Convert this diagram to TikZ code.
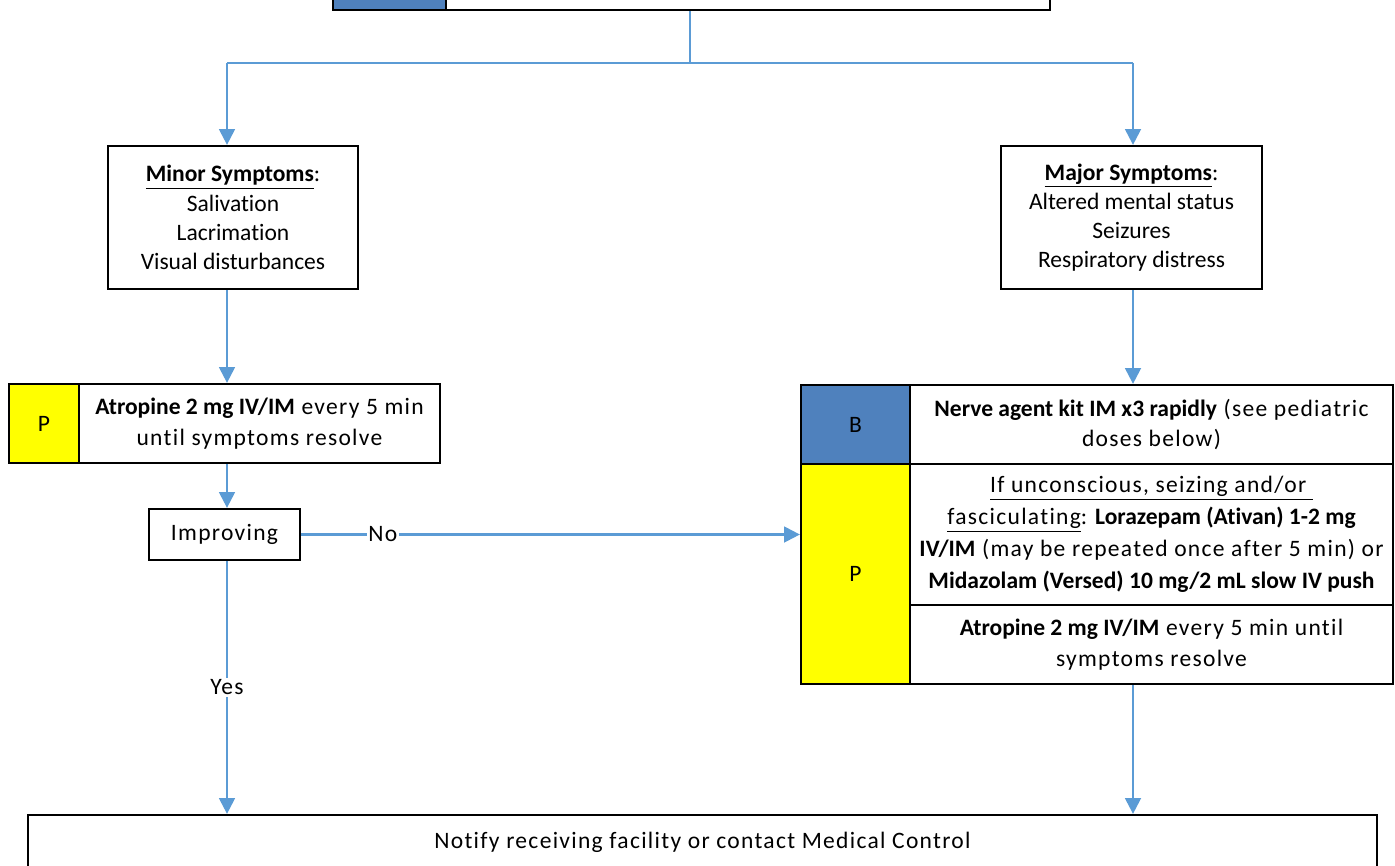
\documentclass[tikz,border=0pt]{standalone}
\usepackage{fontspec}
\setmainfont{Carlito}[Ligatures=NoCommon, LetterSpace=5.5, BoldFeatures={LetterSpace=0}]
\newfontfamily\plainfont{Carlito}[Ligatures=NoCommon]
\usetikzlibrary{arrows.meta, positioning}
\definecolor{flowblue}{HTML}{5B9BD5}
\definecolor{blsblue}{HTML}{4F81BD}
\definecolor{alsyellow}{HTML}{FFFF00}

\begin{document}
\begin{tikzpicture}[x=0.02cm, y=-0.02cm,
        box/.style={rectangle, draw, line width=1.3pt, align=center, inner sep=2pt, font=\fontsize{13.4}{16.5}\selectfont},
        symptom/.style={box, font=\plainfont\fontsize{13.4}{16.6}\selectfont},
        cell/.style={box, font=\fontsize{13.4}{17.5}\selectfont},
        flow/.style={draw=flowblue, line width=1.3pt},
        arrow/.style={flow, -{Triangle[length=9pt, width=9pt]}},
        tag/.style={fill=white, inner sep=1pt, font=\fontsize{13.4}{15}\selectfont}
    ]
        \useasboundingbox (0,0) rectangle (1395,865);

        % Nodes
        \node (topcell) [box, fill=blsblue, minimum width=2.26cm, minimum height=1cm] at (389.5,-15) {};
        \node (topbox) [box, minimum width=12.08cm, minimum height=1cm] at (748,-15) {};

        \node (minor) [symptom, minimum width=5cm, minimum height=2.86cm] at (233,217.5)
            {\underline{\textbf{Minor Symptoms}}:\\Salivation\\Lacrimation\\Visual disturbances};
        \node (major) [symptom, minimum width=5.22cm, minimum height=2.86cm] at (1131.5,217.5)
            {\underline{\textbf{Major Symptoms}}:\\Altered mental status\\Seizures\\Respiratory distress};

        \node (pleft) [cell, fill=alsyellow, minimum width=1.4cm, minimum height=1.58cm] at (44,423.5) {P};
        \node (atroleft) [cell, minimum width=7.22cm, minimum height=1.58cm] at (259.5,423.5)
            {\textbf{Atropine 2 mg IV/IM} every 5 min\\until symptoms resolve};
        \node (improving) [box, minimum width=3.02cm, minimum height=1.02cm] at (224.5,534.5) {Improving};

        \node (bcell) [cell, fill=blsblue, minimum width=2.18cm, minimum height=1.58cm] at (855.5,424.5) {B};
        \node (nerve) [cell, minimum width=9.66cm, minimum height=1.58cm] at (1151.5,424.5)
            {\textbf{Nerve agent kit IM x3 rapidly} (see pediatric\\doses below)};
        \node (pright) [cell, fill=alsyellow, minimum width=2.18cm, minimum height=4.4cm] at (855.5,574) {P};
        \node (benzo) [cell, font=\fontsize{13.4}{18.3}\selectfont, minimum width=9.66cm, minimum height=2.82cm] at (1151.5,534.5)
            {\underline{If unconscious, seizing and/or }\\\underline{fasciculating}:\ \textbf{Lorazepam (Ativan) 1-2 mg}\\\textbf{IV/IM} (may be repeated once after 5 min) or\\\textbf{Midazolam (Versed) 10 mg/2 mL slow IV push}};
        \node (atroright) [cell, minimum width=9.66cm, minimum height=1.58cm] at (1151.5,644.5)
            {\textbf{Atropine 2 mg IV/IM} every 5 min until\\symptoms resolve};

        \node (notify) [box, minimum width=26.98cm, minimum height=1.08cm] at (702.5,842)
            {Notify receiving facility or contact Medical Control};

        \coordinate (split) at (690,63);
        \coordinate (leftrun) at (227,63);
        \coordinate (rightrun) at (1133,63);

        % Arrows
        \draw [flow] (topbox.south -| split) -- (split);
        \draw [flow] (leftrun) -- (rightrun);
        \draw [arrow] (leftrun) -- (minor.north -| leftrun);
        \draw [arrow] (rightrun) -- (major.north -| rightrun);

        \draw [arrow] (minor.south -| leftrun) -- (atroleft.north -| leftrun);
        \draw [arrow] (atroleft.south -| leftrun) -- (improving.north -| leftrun);
        \draw [arrow] (improving.east) -- (pright.west |- improving.east) node [tag, pos=0.164] {No};
        \draw [arrow] (improving.south -| leftrun) -- (notify.north -| leftrun) node [tag, midway] {Yes};

        \draw [arrow] (major.south -| rightrun) -- (nerve.north -| rightrun);
        \draw [arrow] (atroright.south -| rightrun) -- (notify.north -| rightrun);
    \end{tikzpicture}
\end{document}
